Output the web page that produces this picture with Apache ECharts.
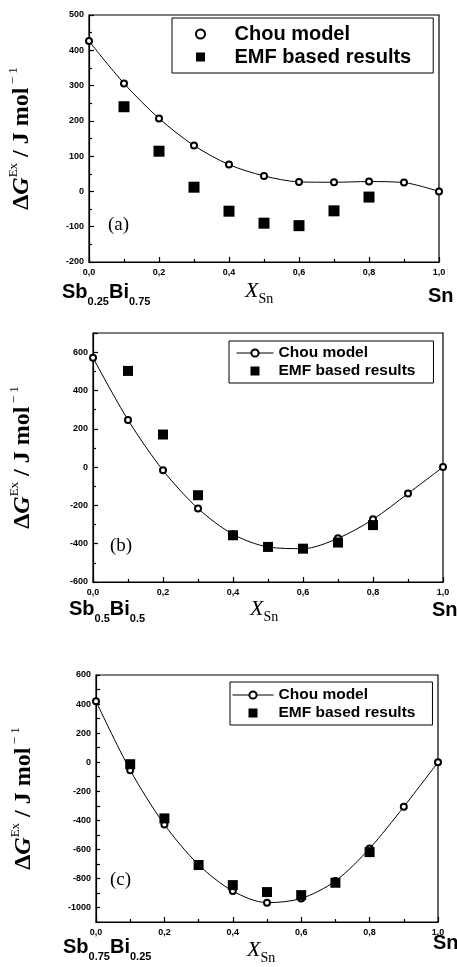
<!DOCTYPE html>
<html>
<head>
<meta charset="utf-8">
<script src="https://cdn.jsdelivr.net/npm/echarts@6/dist/echarts.min.js"></script>
<style>
html, body { margin: 0; padding: 0; background: #fff; }
#chart { width: 457px; height: 967px; }
</style>
</head>
<body>
<div id="chart"></div>
<script>
// composition axis (mole fraction of Sn)
var xSn = [0, 0.1, 0.2, 0.3, 0.4, 0.5, 0.6, 0.7, 0.8, 0.9, 1.0];
var xEmf = [0.1, 0.2, 0.3, 0.4, 0.5, 0.6, 0.7, 0.8];

// (a) Sb0.25Bi0.75 - Sn
var chouA = [426, 306, 207, 130, 76, 44, 27, 26, 28, 25, 0];
var emfA = [240, 114, 12, -56, -90, -97, -55, -16];
// (b) Sb0.5Bi0.5 - Sn
var chouB = [571, 246, -17, -216, -351, -417, -426, -372, -273, -138, 0];
var emfB = [502, 170, -147, -356, -417, -426, -394, -303];
// (c) Sb0.75Bi0.25 - Sn
var chouC = [419, -55, -429, -706, -887, -967, -938, -818, -594, -307, 0];
var emfC = [-14, -387, -708, -846, -894, -915, -830, -619];

// tick labels
var yTicksA = [-200, -100, 0, 100, 200, 300, 400, 500];
var yTicksB = [-600, -400, -200, 0, 200, 400, 600];
var yTicksC = [-1000, -800, -600, -400, -200, 0, 200, 400, 600];
var startLabels = ['{b|Sb}{s|0.25}{b|Bi}{s|0.75}', '{b|Sb}{s|0.5}{b|Bi}{s|0.5}', '{b|Sb}{s|0.75}{b|Bi}{s|0.25}'];
var panelTags = ['(a)', '(b)', '(c)'];

var SANS = '"Liberation Sans", Arial, sans-serif';
var SERIF = '"Liberation Serif", "Times New Roman", serif';
var SQUARE = 'path://M0,0H10V10H0Z';

function zip(xs, ys) {
  return xs.map(function (x, i) { return [x, ys[i]]; });
}

var grids = [
  {left: 89, top: 15, width: 350, height: 247},
  {left: 93, top: 333, width: 350, height: 249},
  {left: 96, top: 675, width: 342, height: 247}
];
var yRanges = [
  {min: -200, max: 500, interval: 100, ticks: yTicksA, minor: true},
  {min: -600, max: 700, interval: 200, ticks: yTicksB, minor: true},
  {min: -1100, max: 600, interval: 100, ticks: yTicksC, minor: false}
];
var nameGaps = [52, 55, 57];

var axisLineStyle = {color: '#000', width: 1.2};
var tickLabel = {color: '#000', fontSize: 9, fontWeight: 'bold', fontFamily: SANS};

var xAxes = grids.map(function (g, i) {
  return {
    type: 'value', gridIndex: i, min: 0, max: 1, interval: 0.2,
    axisLine: {onZero: false, lineStyle: axisLineStyle},
    axisTick: {inside: true, length: 5, lineStyle: axisLineStyle},
    minorTick: {show: true, splitNumber: 2, length: 3, lineStyle: axisLineStyle},
    splitLine: {show: false},
    axisLabel: Object.assign({margin: 6, formatter: function (v) { return v.toFixed(1).replace('.', ','); }}, tickLabel)
  };
});

var yAxes = yRanges.map(function (r, i) {
  return {
    type: 'value', gridIndex: i, min: r.min, max: r.max, interval: r.interval,
    name: '{d|Δ}{g|G}{sup|Ex}{t| / J mol}{sup| − 1}',
    nameLocation: 'middle', nameGap: nameGaps[i], nameRotate: 90,
    nameTextStyle: {
      color: '#000',
      rich: {
        d: {fontFamily: SERIF, fontWeight: 'bold', fontSize: 24, lineHeight: 30, color: '#000'},
        g: {fontFamily: SERIF, fontStyle: 'italic', fontWeight: 'bold', fontSize: 24, lineHeight: 30, color: '#000'},
        t: {fontFamily: SERIF, fontWeight: 'bold', fontSize: 24, lineHeight: 30, color: '#000'},
        sup: {fontFamily: SERIF, fontSize: 13, lineHeight: 13, verticalAlign: 'top', color: '#000'}
      }
    },
    axisLine: {onZero: false, lineStyle: axisLineStyle},
    axisTick: {inside: true, length: r.minor ? 5 : 4, lineStyle: axisLineStyle},
    minorTick: {show: r.minor, splitNumber: 2, length: 3, lineStyle: axisLineStyle},
    splitLine: {show: false},
    axisLabel: Object.assign({margin: 5, formatter: function (v) {
      return r.ticks.indexOf(Math.round(v)) >= 0 ? String(Math.round(v)) : '';
    }}, tickLabel)
  };
});

var chouData = [chouA, chouB, chouC];
var emfData = [emfA, emfB, emfC];
var series = [];
for (var i = 0; i < 3; i++) {
  series.push({
    name: 'Chou model', type: 'line', xAxisIndex: i, yAxisIndex: i,
    data: zip(xSn, chouData[i]), smooth: 0.3,
    symbol: 'emptyCircle', symbolSize: 6,
    lineStyle: {color: '#000', width: 1},
    itemStyle: {color: '#000', borderWidth: 1},
    z: 2, animation: false
  });
  series.push({
    name: 'EMF based results', type: 'scatter', xAxisIndex: i, yAxisIndex: i,
    data: zip(xEmf, emfData[i]), symbol: 'rect', symbolSize: i === 0 ? 11 : 10,
    itemStyle: {color: '#000', opacity: 1}, z: 3, animation: false
  });
}

var legends = [
  {
    left: 172, top: 18, padding: [6, 22, 6, 23], itemWidth: 58, itemHeight: 9, itemGap: 3,
    textStyle: {fontSize: 20, fontWeight: 'bold', fontFamily: SANS, color: '#000', lineHeight: 20},
    data: [{name: 'Chou model', icon: 'emptyCircle'}, {name: 'EMF based results', icon: SQUARE}]
  },
  {
    left: 229, top: 341, padding: [4, 18, 4, 7], itemWidth: 37, itemHeight: 9, itemGap: 2,
    textStyle: {fontSize: 15.5, fontWeight: 'bold', fontFamily: SANS, color: '#000', lineHeight: 16},
    data: ['Chou model', {name: 'EMF based results', icon: SQUARE}]
  },
  {
    left: 230, top: 682, padding: [5, 17, 4, 2], itemWidth: 41, itemHeight: 9, itemGap: 2,
    textStyle: {fontSize: 15.5, fontWeight: 'bold', fontFamily: SANS, color: '#000', lineHeight: 16},
    data: ['Chou model', {name: 'EMF based results', icon: SQUARE}]
  }
].map(function (l) {
  return Object.assign({
    orient: 'vertical', borderColor: '#000', borderWidth: 1, selectedMode: false,
    symbolKeepAspect: true,
    lineStyle: {width: 1, color: '#000'},
    itemStyle: {borderWidth: 1}
  }, l);
});

// text under and inside each panel
var startPos = [[62, 282], [69, 599], [63, 937]];
var xNamePos = [[245, 280], [250, 598], [247, 939]];
var endPos = [[428, 286], [432, 600], [433, 933]];
var tagPos = [[108, 216], [110, 537], [110, 871]];
var graphics = [];
for (var k = 0; k < 3; k++) {
  graphics.push({
    type: 'text', left: startPos[k][0], top: startPos[k][1],
    style: {
      text: startLabels[k],
      rich: {
        b: {fontFamily: SANS, fontWeight: 'bold', fontSize: 20, lineHeight: 30, fill: '#000'},
        s: {fontFamily: SANS, fontWeight: 'bold', fontSize: 11, lineHeight: 11, verticalAlign: 'bottom', fill: '#000'}
      }
    }
  });
  graphics.push({
    type: 'text', left: xNamePos[k][0], top: xNamePos[k][1],
    style: {
      text: '{x|X}{s|Sn}',
      rich: {
        x: {fontFamily: SERIF, fontStyle: 'italic', fontSize: 22, lineHeight: 30, fill: '#000'},
        s: {fontFamily: SERIF, fontSize: 14, lineHeight: 14, verticalAlign: 'bottom', fill: '#000'}
      }
    }
  });
  graphics.push({
    type: 'text', left: endPos[k][0], top: endPos[k][1],
    style: {text: 'Sn', font: 'bold 20px ' + SANS, fill: '#000'}
  });
  graphics.push({
    type: 'text', left: tagPos[k][0], top: tagPos[k][1],
    style: {text: panelTags[k], font: '19px ' + SERIF, fill: '#000'}
  });
}

var myChart = echarts.init(document.getElementById('chart'));
myChart.setOption({
  backgroundColor: '#fff',
  animation: false,
  grid: grids.map(function (g) {
    return Object.assign({show: true, borderColor: '#000', borderWidth: 1.2, containLabel: false, outerBoundsMode: 'none'}, g);
  }),
  xAxis: xAxes,
  yAxis: yAxes,
  legend: legends,
  series: series,
  graphic: graphics
});
</script>
</body>
</html>
